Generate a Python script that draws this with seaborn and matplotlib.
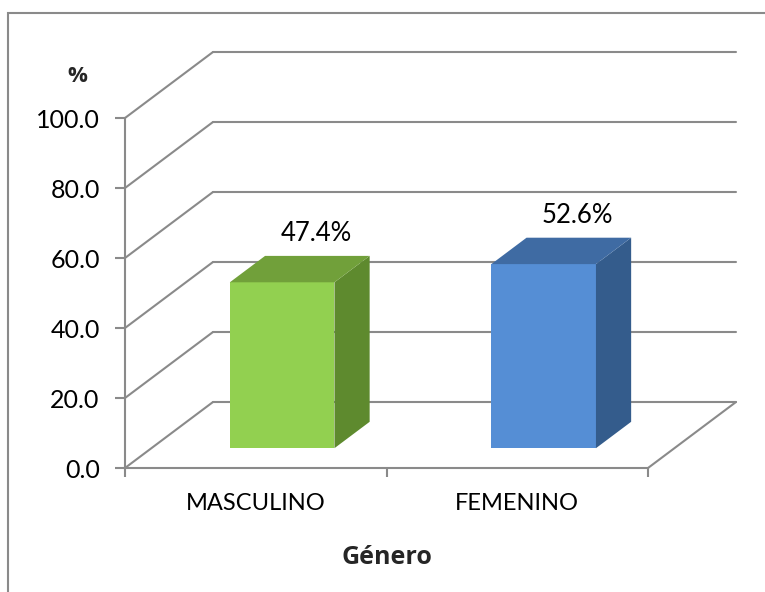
import matplotlib
matplotlib.use("Agg")
import matplotlib.pyplot as plt
import matplotlib.transforms as mtransforms
from matplotlib.patches import Polygon, Rectangle
import seaborn as sns

# Datos del gráfico
categorias = ["MASCULINO", "FEMENINO"]
porcentajes = [47.4, 52.6]
etiquetas = ["47.4%", "52.6%"]
y_ticks = [0, 20, 40, 60, 80, 100]

# Colores (cara frontal, lateral y superior)
colores_frente = ["#92D050", "#558ED5"]
colores_lado = ["#5E8A2E", "#345C8C"]
colores_tope = ["#71A03A", "#3F6BA3"]
gris = "#8A8A8A"

sns.set_style("white")
plt.rcParams["font.family"] = ["Lato", "DejaVu Sans"]

W, H = 765, 592
fig = plt.figure(figsize=(W / 100, H / 100), dpi=100)

# plano frontal del grafico (pixeles)
x0, x1 = 125, 648
y0, y1 = 468, 118
ax = fig.add_axes([x0 / W, 1 - y0 / H, (x1 - x0) / W, (y0 - y1) / H])

# profundidad 3D en pixeles
prof_px = (88, 66)
ddx = prof_px[0] / ((x1 - x0) / 2)
ddy = prof_px[1] / ((y0 - y1) / 100)

sns.barplot(x=categorias, y=porcentajes, hue=categorias, palette=colores_frente,
            width=0.4, saturation=1, legend=False, ax=ax, zorder=3)
ax.set_xlim(-0.5, 1.5)
ax.set_ylim(0, 100)

# paredes y lineas de division
for v in y_ticks:
    ax.plot([-0.5, -0.5 + ddx], [v, v + ddy], color=gris, lw=1.5, clip_on=False, zorder=1)
    ax.plot([-0.5 + ddx, 1.5 + ddx], [v + ddy, v + ddy], color=gris, lw=1.5, clip_on=False, zorder=1)
ax.plot([1.5, 1.5 + ddx], [0, ddy], color=gris, lw=1.5, clip_on=False, zorder=1)

# barras desplazadas hacia el fondo, con caras lateral y superior
desp = mtransforms.ScaledTranslation(0.3 * prof_px[0] / 100, 0.3 * prof_px[1] / 100, fig.dpi_scale_trans)
trans = ax.transData + desp
bdx, bdy = 0.4 * ddx, 0.4 * ddy
barras = sorted(ax.patches, key=lambda p: p.get_x())
for i, p in enumerate(barras):
    p.set_transform(trans)
    p.set_clip_on(False)
    p.set_edgecolor("none")
    x, w, h = p.get_x(), p.get_width(), p.get_height()
    lado = Polygon([(x + w, 0), (x + w + bdx, bdy), (x + w + bdx, h + bdy), (x + w, h)],
                   closed=True, facecolor=colores_lado[i], edgecolor="none",
                   transform=trans, clip_on=False, zorder=3)
    tope = Polygon([(x, h), (x + w, h), (x + w + bdx, h + bdy), (x + bdx, h + bdy)],
                   closed=True, facecolor=colores_tope[i], edgecolor="none",
                   transform=trans, clip_on=False, zorder=3)
    ax.add_patch(lado)
    ax.add_patch(tope)
    ax.annotate(etiquetas[i], xy=(x + w / 2 + bdx, h + bdy), xycoords=trans,
                xytext=(-1, 16), textcoords="offset points", ha="center", va="center",
                fontsize=18.5, color="black")

# ejes
for s in ["top", "right"]:
    ax.spines[s].set_visible(False)
for s in ["left", "bottom"]:
    ax.spines[s].set_color(gris)
    ax.spines[s].set_linewidth(1.5)
    ax.spines[s].set_zorder(2)

ax.set_yticks(y_ticks)
ax.set_yticklabels([f"{v:.1f}" for v in y_ticks])
ax.tick_params(axis="y", left=True, direction="out", length=7.2, width=1.5, color=gris,
               pad=11, labelsize=18, labelcolor="black")

ax.set_xticks([0, 1])
ax.set_xticklabels(categorias)
ax.set_xticks([-0.5, 0.5, 1.5], minor=True)
ax.tick_params(axis="x", which="major", bottom=True, length=0, pad=18, labelsize=17, labelcolor="black")
ax.tick_params(axis="x", which="minor", bottom=True, direction="out", length=6.5, width=1.5, color=gris)

ax.set_xlabel("Género", fontsize=18, fontweight="bold", family=["Open Sans", "DejaVu Sans"])
ax.xaxis.set_label_coords(0.5, -(558 - y0) / (y0 - y1))
ax.set_ylabel("")
ax.xaxis.label.set_va("center")

fig.text(77 / W, 1 - 77 / H, "%", ha="center", va="center", fontsize=16,
         fontweight="bold", family=["Open Sans", "DejaVu Sans"])

# borde exterior
fig.patches.append(Rectangle((8 / W, -0.1), 1.2, (H - 13) / H + 0.1, transform=fig.transFigure,
                             fill=False, edgecolor=gris, lw=1.5, zorder=0))

fig.savefig("out.png", dpi=100)
